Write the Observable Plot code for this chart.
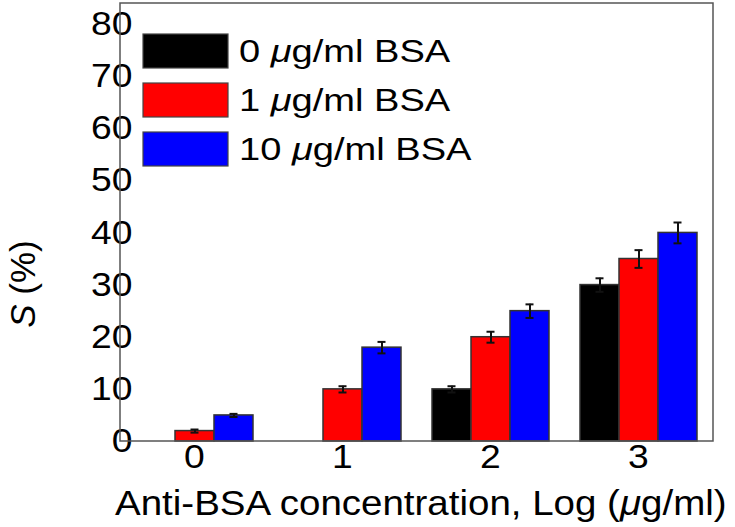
<!DOCTYPE html>
<html>
<head>
<meta charset="utf-8">
<script src="https://cdn.jsdelivr.net/npm/d3@7"></script>
<script src="https://cdn.jsdelivr.net/npm/@observablehq/plot@0.6"></script>
<style>
  html, body { margin: 0; padding: 0; background: white; }
</style>
</head>
<body>
<div id="chart"></div>
<script>
// ---- data ----
const groups = ["0", "1", "2", "3"];                 // Anti-BSA concentration, Log (µg/ml)
const seriesDose = ["0", "1", "10"];                 // µg/ml BSA
const seriesNames = ["0 μg/ml BSA", "1 μg/ml BSA", "10 μg/ml BSA"];
const seriesColors = ["#000000", "#ff0000", "#0000ff"];
const bsa0 = [0, 0, 10, 30];
const bsa0Err = [0, 0, 0.6, 1.3];
const bsa1 = [2, 10, 20, 35];
const bsa1Err = [0.3, 0.6, 1.05, 1.7];
const bsa10 = [5, 18, 25, 40];
const bsa10Err = [0.3, 1.1, 1.3, 2.0];
const yTicks = [0, 10, 20, 30, 40, 50, 60, 70, 80];

const seriesValues = [bsa0, bsa1, bsa10];
const seriesErrors = [bsa0Err, bsa1Err, bsa10Err];
const rows = [];
seriesNames.forEach((s, si) => {
  groups.forEach((g, gi) => {
    rows.push({ group: g, series: s, value: seriesValues[si][gi], err: seriesErrors[si][gi] });
  });
});
const barRows = rows.filter(d => d.value > 0);
const errRows = rows.filter(d => d.err > 0);

const W = 735, H = 527;
const mT = 3, mB = 86, mL = 120, mR = 22;
const FONT = "'Liberation Sans', Arial, sans-serif";

const chart = Plot.plot({
  width: W, height: H,
  marginTop: mT, marginBottom: mB, marginLeft: mL, marginRight: mR,
  style: { fontFamily: FONT, fontSize: "33px", color: "black", background: "white", overflow: "visible" },
  fx: { domain: groups, paddingInner: 0.2, paddingOuter: 0.1, label: null },
  x: { domain: seriesNames, padding: 0, axis: null },
  y: { domain: [0, 84], label: null },
  color: { domain: seriesNames, range: seriesColors },
  marks: [
    Plot.axisY({ ticks: yTicks, tickSize: 0, tickPadding: 3, fontSize: 33, label: null }),
    Plot.axisFx({ anchor: "bottom", tickSize: 0, tickPadding: 3, fontSize: 33, label: null }),
    Plot.barY(barRows, { fx: "group", x: "series", y: "value", fill: "series", stroke: "#333", strokeWidth: 1.5 }),
    Plot.ruleX(errRows, { fx: "group", x: "series", y1: d => d.value - d.err, y2: d => d.value + d.err, stroke: "#111", strokeWidth: 2 }),
    Plot.tickY(errRows, { fx: "group", x: "series", y: d => d.value + d.err, stroke: "#111", strokeWidth: 2, insetLeft: 15.5, insetRight: 15.5 }),
    Plot.tickY(errRows, { fx: "group", x: "series", y: d => d.value - d.err, stroke: "#111", strokeWidth: 2, insetLeft: 15.5, insetRight: 15.5 })
  ]
});

const svg = d3.select(chart);
// widen axis tick labels slightly (reference glyphs are horizontally stretched)
svg.selectAll("g[aria-label$='tick label'] text").each(function () {
  const tr = this.getAttribute("transform") || "";
  this.setAttribute("transform", tr + " scale(1.13,1)");
});

// frame
svg.append("rect")
  .attr("x", mL).attr("y", mT)
  .attr("width", W - mL - mR).attr("height", H - mT - mB)
  .attr("fill", "none").attr("stroke", "#555").attr("stroke-width", 1.5);

// legend (inside plot area)
const leg = svg.append("g").attr("font-family", FONT).attr("text-anchor", "start");
seriesNames.forEach((s, i) => {
  leg.append("rect")
    .attr("x", 143).attr("y", 34 + 49 * i)
    .attr("width", 85).attr("height", 34)
    .attr("fill", seriesColors[i]).attr("stroke", "#444").attr("stroke-width", 1.2);
  const t = leg.append("text")
    .attr("transform", `translate(239,${62 + 49 * i}) scale(1.19,1)`)
    .attr("text-anchor", "start")
    .attr("font-size", 32).attr("fill", "black");
  t.append("tspan").text(seriesDose[i] + " ");
  t.append("tspan").attr("font-style", "italic").text("μ");
  t.append("tspan").text("g/ml BSA");
});

// y title
const yt = svg.append("text")
  .attr("transform", `translate(35,284) rotate(-90)`)
  .attr("text-anchor", "middle")
  .attr("font-family", FONT)
  .attr("font-size", 35).attr("fill", "black");
yt.append("tspan").attr("font-style", "italic").text("S");
yt.append("tspan").text(" (%)");

// x title
const xt = svg.append("text")
  .attr("transform", `translate(115,${H - 12}) scale(1.1,1)`)
  .attr("text-anchor", "start")
  .attr("font-family", FONT)
  .attr("font-size", 35).attr("fill", "black");
xt.append("tspan").text("Anti-BSA concentration, Log (");
xt.append("tspan").attr("font-style", "italic").text("μ");
xt.append("tspan").text("g/ml)");

document.getElementById("chart").appendChild(chart);
</script>
</body>
</html>
